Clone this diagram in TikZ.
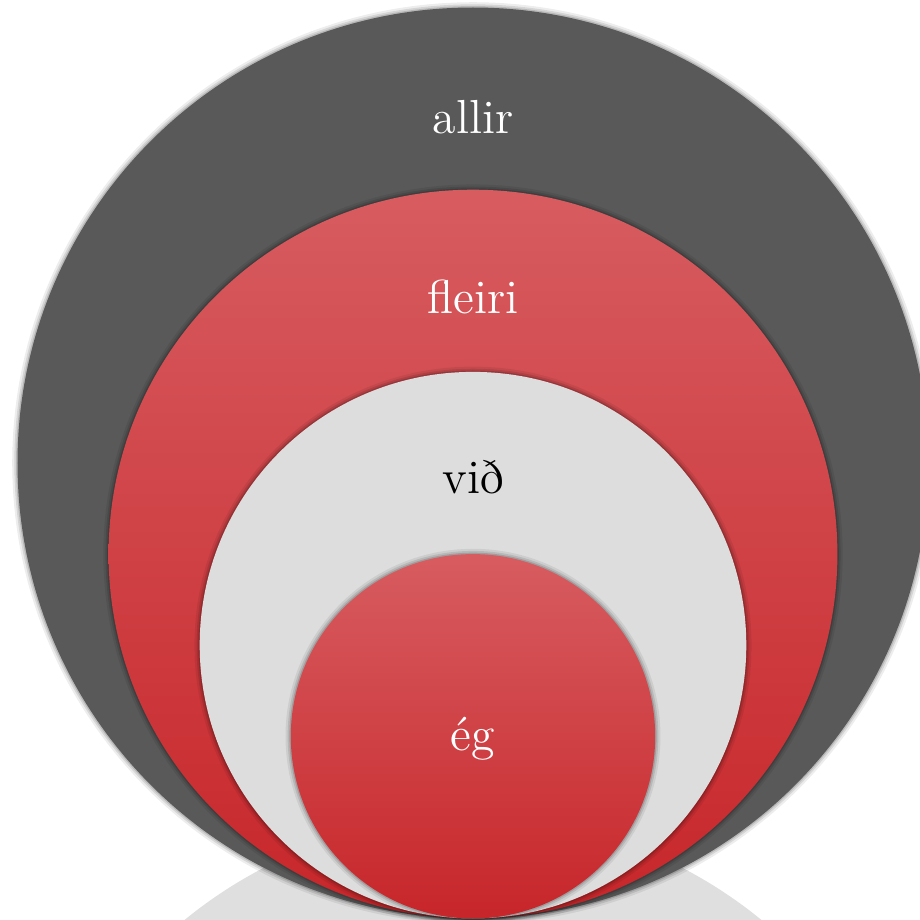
\documentclass[tikz,border=0pt]{standalone}
\usepackage{xcolor}
\usepackage{tikz}
\usetikzlibrary{positioning}
\definecolor{ringdk}{RGB}{89,89,89}
\definecolor{ringlt}{RGB}{221,221,221}
\definecolor{redtop}{RGB}{215,92,96}
\definecolor{redbot}{RGB}{199,38,42}
\definecolor{mirror}{RGB}{223,223,223}
\tikzset{
  ring/.style={circle,inner sep=0pt,outer sep=0pt,anchor=south,minimum size=#1,
    preaction={draw=black,opacity=0.07,line width=3pt},
    preaction={draw=black,opacity=0.10,line width=1.8pt},
    preaction={draw=black,opacity=0.14,line width=0.8pt}},
  dk/.style={fill=ringdk},
  lt/.style={fill=ringlt},
  rd/.style={top color=redtop,bottom color=redbot},
  lbl/.style={anchor=base,font=\fontsize{13.6}{16}\selectfont,text=white},
  mir/.style={fill=mirror}
}

\begin{document}
\begin{tikzpicture}
\useasboundingbox (0,0) rectangle (9.2,9.2);
\clip (0,0) rectangle (9.2,9.2);
\coordinate (base) at (4.73,0.015);
\coordinate (mc) at (4.73,-3.525);
\fill[mir] (mc) circle[radius=4.555]; % reflection
\node[ring=9.11cm,dk] (allir) at (base) {};
\node[ring=7.288cm,rd] (fleiri) at (base) {};
\node[ring=5.466cm,lt] (vid) at (base) {};
\node[ring=3.644cm,rd] (eg) at (base) {};
\node[lbl] (t-allir) at ([yshift=-1.26cm]allir.north) {allir};
\node[lbl] (t-fleiri) at ([yshift=-1.24cm]fleiri.north) {fleiri};
\node[lbl,text=black] (t-vid) at ([yshift=-1.22cm]vid.north) {við};
\node[lbl] (t-eg) at ([yshift=-1.96cm]eg.north) {ég};
\end{tikzpicture}
\end{document}
